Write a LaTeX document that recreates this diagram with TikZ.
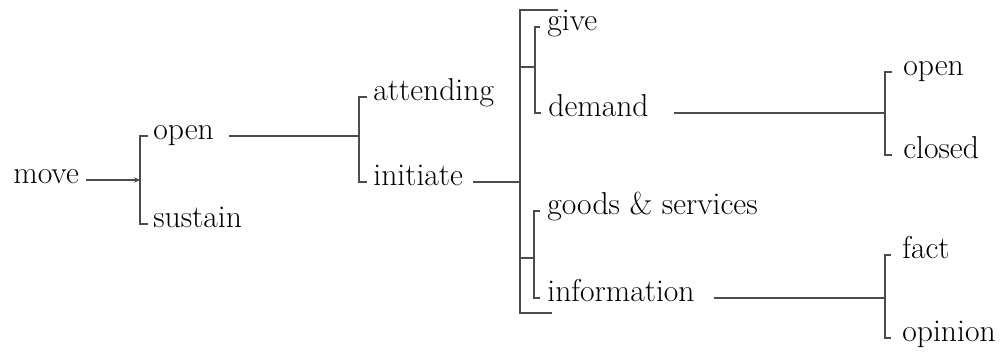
\documentclass[tikz,border=0pt]{standalone}
\usetikzlibrary{arrows.meta}
\tikzset{
    term/.style = {anchor=mid west,inner sep=0,font=\fontsize{18}{21}\selectfont},
    sys/.style = {draw=black!70,line width=0.6pt},
    entry/.style = {sys,-{Stealth[length=1.2mm,width=1.1mm]}}
}

\begin{document}
\begin{tikzpicture}[x=0.2mm,y=-0.2mm]
    \useasboundingbox (0,0) rectangle (1000,352);
    % Features
    \path (13,180) node[term] (move) {move}
        (153,136) node[term] (open) {open}
        (153,224) node[term] (sustain) {sustain}
        (373,97) node[term] (attending) {attending}
        (373,182) node[term] (initiate) {initiate}
        (547,27) node[term] (give) {give}
        (548,113) node[term] (demand) {demand}
        (547,211) node[term] (goods) {goods \& services}
        (547,298) node[term] (information) {information}
        (903,72) node[term] (qopen) {open}
        (903,155) node[term] (qclosed) {closed}
        (902,255) node[term] (fact) {fact}
        (902,338) node[term] (opinion) {opinion}
    ;
    % Entry conditions
    \path (140,180) coordinate (moveentry)
        (359,136) coordinate (openentry)
        (520,182) coordinate (initentry)
        (885,113) coordinate (demandentry)
        (885,298) coordinate (infoentry)
    ;
    % Simultaneous systems
    \path (520,10) coordinate (bigtop)
        (558,10) coordinate (bigtopend)
        (520,313) coordinate (bigbot)
        (552,313) coordinate (bigbotend)
        (520,67) coordinate (ja)
        (535,67) coordinate (sa)
        (520,258) coordinate (jb)
        (534,258) coordinate (sb)
    ;
    \draw[sys] (bigtopend) -- (bigtop) -- (bigbot) -- (bigbotend);
    \foreach \src/\dest in {ja/sa,jb/sb}
        \draw[sys] (\src) -- (\dest);
    % Entry lines
    \draw[entry] ([xshift=1.4mm]move.mid east) -- (moveentry);
    \foreach \src/\gap/\dest in {open/3mm/openentry,initiate/2mm/initentry,
        demand/5mm/demandentry,information/3.8mm/infoentry}
        \draw[sys] ([xshift=\gap]\src.mid east) -- (\dest);
    % Choices
    \foreach \hi/\lo/\gap/\join in {open/sustain/1mm/moveentry,
        attending/initiate/1.2mm/openentry,give/demand/1.4mm/sa,
        goods/information/1.4mm/sb,qopen/qclosed/2.2mm/demandentry,
        fact/opinion/2.2mm/infoentry}
        \draw[sys] ([xshift=-\gap]\hi.mid west) -| (\join) |- ([xshift=-\gap]\lo.mid west);
\end{tikzpicture}
\end{document}
